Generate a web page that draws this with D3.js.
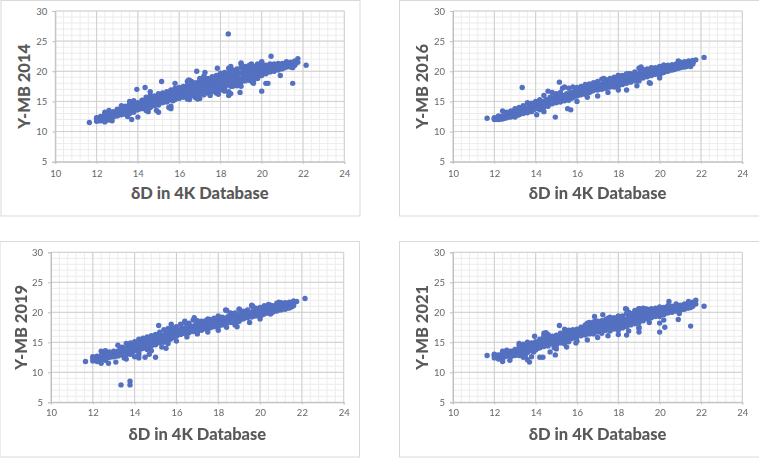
<!DOCTYPE html>
<html><head><meta charset="utf-8">
<script src="https://cdn.jsdelivr.net/npm/d3@7"></script>
<style>html,body{margin:0;padding:0;background:#fff}svg{display:block;filter:blur(.4px)}</style>
</head><body><svg id="c" width="759" height="458"></svg>
<script>
// Shared δD values for the envelope rows
const xEdge=[12.0,12.2,12.4,12.6,12.8,13.0,13.2,13.4,13.6,13.8,14.0,14.2,14.4,14.6,14.8,15.0,15.2,15.4,15.6,15.8,16.0,16.2,16.4,16.6,16.8,17.0,17.2,17.4,17.6,17.8,18.0,18.2,18.4,18.6,18.8,19.0,19.2,19.4,19.6,19.8,20.0,20.2,20.4,20.6,20.8,21.0,21.2,21.4,21.6];
const xCore=[12.1,12.3,12.5,12.7,12.9,13.1,13.3,13.5,13.7,13.9,14.1,14.3,14.5,14.7,14.9,15.1,15.3,15.5,15.7,15.9,16.1,16.3,16.5,16.7,16.9,17.1,17.3,17.5,17.7,17.9,18.1,18.3,18.5,18.7,18.9,19.1,19.3,19.5,19.7,19.9,20.1,20.3,20.5,20.7,20.9,21.1,21.3,21.5,21.6];

const hi2014=[12.3,12.5,13.2,13.5,13.3,13.7,14.3,14.2,15.0,15.1,14.8,15.2,15.7,16.0,15.9,16.3,16.4,16.6,16.9,17.2,17.3,17.5,18.3,18.3,18.1,18.5,19.0,18.8,19.1,19.3,19.5,19.8,20.5,20.2,20.4,21.2,20.8,21.0,20.9,21.2,21.5,21.0,21.2,21.2,21.3,21.3,21.6,21.5,21.7];
const upFill2014=[12.2,12.4,12.9,13.2,13.1,13.5,13.9,14.0,14.5,14.7,14.5,14.9,15.3,15.5,15.5,15.9,16.1,16.3,16.6,16.9,17.0,17.2,17.7,17.7,17.7,18.0,18.4,18.4,18.6,18.8,19.1,19.3,19.8,19.8,20.0,20.6,20.4,20.6,20.6,20.8,21.0,20.8,20.9,21.0,21.1,21.1,21.3,21.4,21.5];
const up2014=[12.2,12.4,12.8,13.0,13.0,13.4,13.6,13.9,14.3,14.5,14.4,14.8,15.1,15.3,15.3,15.7,15.9,16.1,16.4,16.6,16.8,17.0,17.3,17.3,17.5,17.7,18.0,18.1,18.3,18.5,18.8,19.0,19.4,19.5,19.7,20.2,20.1,20.3,20.4,20.5,20.7,20.6,20.7,20.8,21.0,21.1,21.2,21.3,21.5];
const mid2014=[12.1,12.2,12.5,12.8,12.9,13.2,13.4,13.6,14.0,14.2,14.2,14.5,14.8,15.0,15.0,15.5,15.6,15.8,16.1,16.3,16.5,16.7,16.9,17.0,17.2,17.4,17.7,17.8,18.0,18.2,18.4,18.6,18.9,19.1,19.3,19.7,19.8,20.0,20.1,20.2,20.4,20.4,20.5,20.6,20.8,21.0,21.1,21.2,21.4];
const dn2014=[11.9,12.0,12.3,12.5,12.8,13.0,13.1,13.4,13.7,13.9,14.0,14.3,14.5,14.7,14.8,15.2,15.3,15.5,15.7,16.0,16.2,16.4,16.5,16.7,16.9,17.0,17.3,17.5,17.6,17.8,18.0,18.2,18.3,18.7,18.8,19.2,19.4,19.6,19.7,19.8,20.1,20.2,20.3,20.5,20.6,20.9,21.0,21.0,21.3];
const lowFill2014=[11.8,11.9,12.0,12.2,12.6,12.8,12.9,13.1,13.4,13.6,13.8,14.0,14.1,14.3,14.5,14.8,15.0,15.2,15.1,15.6,15.8,16.0,16.0,16.3,16.3,16.6,16.7,17.0,17.1,17.1,17.4,17.7,17.5,18.0,18.2,18.7,18.9,19.0,19.0,19.4,19.7,19.9,20.1,20.3,20.4,20.6,20.8,20.9,21.1];
const lo2014=[11.7,11.8,11.6,11.9,12.4,12.6,12.8,12.9,13.0,13.2,13.6,13.8,13.5,14.0,14.3,14.4,14.8,14.9,14.2,15.3,15.5,15.7,15.4,15.9,15.6,16.2,16.1,16.4,16.6,16.4,16.9,17.2,16.6,17.5,17.6,18.2,18.4,18.5,18.3,19.0,19.3,19.6,19.9,20.0,20.2,20.4,20.7,20.7,21.0];

const hi2016=[12.3,12.6,13.4,13.2,13.4,13.8,14.0,14.3,14.8,14.7,15.0,15.3,16.0,16.7,16.5,16.3,16.5,17.4,17.2,17.4,17.3,17.5,17.8,17.9,18.1,18.2,18.7,18.6,18.8,19.0,19.3,19.3,19.6,19.6,19.9,20.5,20.3,20.4,20.5,20.6,20.8,21.0,21.0,21.1,21.2,21.5,21.6,21.7,21.8];
const up2016=[12.2,12.4,12.8,12.9,13.1,13.4,13.6,13.9,14.2,14.3,14.6,14.9,15.3,15.7,15.7,15.8,16.0,16.3,16.5,16.7,16.9,17.1,17.3,17.5,17.7,17.8,18.1,18.2,18.4,18.6,18.8,18.9,19.1,19.2,19.4,19.9,19.9,20.0,20.1,20.2,20.4,20.6,20.7,20.8,21.0,21.2,21.3,21.4,21.6];
const mid2016=[12.15,12.3,12.6,12.8,13.0,13.2,13.4,13.7,13.9,14.1,14.4,14.7,15.0,15.3,15.4,15.5,15.7,16.0,16.2,16.4,16.6,16.8,17.0,17.2,17.4,17.6,17.8,17.9,18.1,18.3,18.5,18.6,18.8,19.0,19.2,19.6,19.7,19.8,19.9,20.0,20.2,20.4,20.5,20.6,20.8,21.0,21.1,21.3,21.5];
const dn2016=[12.1,12.1,12.4,12.6,12.8,13.1,13.3,13.5,13.7,13.9,14.2,14.5,14.8,15.0,15.1,15.3,15.5,15.7,15.9,16.2,16.4,16.6,16.8,17.0,17.2,17.4,17.5,17.7,17.9,18.0,18.3,18.4,18.6,18.8,19.0,19.4,19.5,19.6,19.7,19.9,20.0,20.2,20.4,20.5,20.7,20.9,21.0,21.2,21.4];
const lowFill2016=[12.05,12.1,12.2,12.4,12.6,12.7,13.0,13.2,13.4,13.6,13.9,14.0,14.4,14.6,14.8,15.0,15.2,15.4,15.5,15.9,16.1,16.3,16.5,16.7,17.0,17.1,17.2,17.4,17.6,17.7,17.9,18.1,18.3,18.5,18.7,18.9,19.2,19.3,19.5,19.7,19.7,20.0,20.2,20.3,20.5,20.7,20.8,21.1,21.3];
const lo2016=[12.0,12.0,12.1,12.3,12.4,12.4,12.8,13.0,13.1,13.3,13.8,13.6,14.0,14.2,14.6,14.8,14.9,15.1,15.2,15.6,15.9,16.1,16.2,16.5,16.8,16.9,17.0,17.2,17.4,17.4,17.5,17.8,18.0,18.2,18.4,18.4,18.9,19.1,19.3,19.5,19.4,19.8,20.0,20.2,20.4,20.6,20.7,21.0,21.2];

const hi2019=[12.6,12.7,13.5,13.6,13.4,13.5,14.5,14.2,14.8,14.9,15.1,15.5,15.7,15.9,16.1,16.3,16.7,17.1,17.3,17.4,17.6,18.0,18.3,18.2,18.7,18.4,18.5,18.6,18.8,19.0,19.1,19.2,20.3,19.9,19.9,20.5,20.2,20.4,21.0,20.7,20.8,21.1,21.3,21.1,21.5,21.6,21.6,21.7,21.9];
const up2019=[12.4,12.5,13.0,13.1,13.1,13.2,13.8,13.9,14.3,14.4,14.7,15.0,15.2,15.4,15.6,15.9,16.2,16.5,16.7,16.9,17.1,17.4,17.6,17.7,17.9,17.9,18.0,18.2,18.4,18.6,18.7,18.8,19.4,19.4,19.5,19.9,19.9,20.0,20.3,20.3,20.4,20.6,20.8,20.8,21.0,21.2,21.3,21.4,21.6];
const mid2019=[12.3,12.35,12.8,12.9,12.95,13.05,13.5,13.6,14.0,14.1,14.4,14.7,15.0,15.2,15.3,15.6,16.0,16.2,16.4,16.6,16.8,17.1,17.3,17.4,17.6,17.6,17.8,17.9,18.1,18.3,18.4,18.6,19.1,19.1,19.2,19.6,19.7,19.8,20.0,20.1,20.2,20.3,20.5,20.6,20.8,21.0,21.1,21.2,21.5];
const dn2019=[12.2,12.2,12.6,12.7,12.8,12.9,13.2,13.4,13.7,13.8,14.2,14.5,14.7,14.9,15.1,15.4,15.7,15.9,16.2,16.4,16.6,16.8,17.0,17.2,17.3,17.4,17.6,17.7,17.9,18.1,18.2,18.4,18.8,18.9,19.0,19.3,19.5,19.6,19.7,19.9,20.0,20.1,20.3,20.4,20.6,20.8,20.9,21.1,21.4];
const lowFill2019=[12.05,12.0,12.4,12.5,12.6,12.7,12.9,13.1,13.3,13.4,13.9,13.9,14.3,14.3,14.7,15.0,15.3,15.4,15.5,16.0,16.3,16.5,16.7,16.9,17.0,17.1,17.3,17.4,17.6,17.8,17.9,18.1,18.5,18.6,18.4,18.9,19.2,19.3,19.4,19.6,19.6,19.9,20.1,20.2,20.4,20.6,20.7,20.9,21.2];
const lo2019=[11.9,11.8,12.2,12.4,12.5,12.6,12.7,12.9,12.9,13.0,13.6,13.3,14.0,13.8,14.4,14.6,14.9,15.0,14.8,15.7,16.0,16.3,16.5,16.6,16.8,16.9,17.0,17.2,17.4,17.6,17.6,17.9,18.2,18.3,17.9,18.5,18.9,19.1,19.2,19.4,19.3,19.7,19.9,20.0,20.2,20.4,20.5,20.7,21.1];

const hi2021=[13.0,12.9,13.5,13.7,13.5,13.8,14.8,14.7,15.0,14.9,15.1,15.5,16.5,16.3,16.0,16.2,16.5,17.2,17.0,17.1,17.2,17.5,17.9,18.3,18.4,18.5,18.6,18.8,19.2,19.1,19.0,19.4,20.5,19.8,20.3,20.6,20.7,20.5,20.6,20.7,20.9,20.8,21.1,21.0,21.4,21.2,21.4,21.6,21.7];
const upFill2021=[12.9,12.8,13.3,13.4,13.3,13.6,14.4,14.4,14.7,14.7,14.9,15.2,15.9,15.9,15.8,16.0,16.2,16.7,16.7,16.8,17.0,17.2,17.5,17.8,18.0,18.1,18.3,18.4,18.6,18.7,18.8,19.0,19.8,19.5,19.9,20.2,20.3,20.2,20.3,20.4,20.6,20.6,20.9,20.8,21.1,21.1,21.2,21.4,21.6];
const up2021=[12.8,12.8,13.1,13.2,13.2,13.4,14.1,14.2,14.5,14.5,14.7,15.0,15.5,15.6,15.6,15.8,16.0,16.4,16.4,16.6,16.8,17.0,17.3,17.5,17.7,17.8,18.0,18.1,18.3,18.3,18.5,18.7,19.2,19.2,19.5,19.9,20.0,20.0,20.1,20.2,20.4,20.5,20.7,20.7,20.9,21.0,21.1,21.3,21.5];
const mid2021=[12.7,12.7,13.0,13.1,13.1,13.3,13.7,13.9,14.2,14.3,14.5,14.8,15.2,15.4,15.4,15.6,15.8,16.1,16.2,16.4,16.6,16.8,17.0,17.2,17.4,17.5,17.7,17.8,18.0,18.1,18.2,18.4,18.9,19.0,19.2,19.6,19.7,19.8,19.9,20.0,20.1,20.3,20.5,20.6,20.8,20.9,21.0,21.1,21.4];
const dn2021=[12.6,12.5,12.9,13.0,12.9,13.1,13.4,13.6,13.9,14.1,14.3,14.6,14.9,15.1,15.2,15.4,15.6,15.9,16.0,16.2,16.4,16.6,16.8,17.0,17.1,17.3,17.4,17.6,17.7,17.8,17.9,18.2,18.5,18.7,18.9,19.3,19.4,19.5,19.6,19.8,19.9,20.1,20.3,20.4,20.6,20.7,20.8,21.0,21.2];
const lowFill2021=[12.5,12.4,12.6,12.9,12.8,13.0,13.1,13.4,13.6,13.4,14.0,14.3,14.6,14.8,14.9,15.0,15.3,15.6,15.6,16.0,16.2,16.4,16.5,16.7,16.8,17.0,17.0,17.3,17.3,17.5,17.5,17.8,18.1,18.3,18.5,18.8,19.0,19.2,19.4,19.6,19.6,19.9,20.1,20.2,20.4,20.5,20.7,20.8,21.1];
const lo2021=[12.4,12.2,12.3,12.7,12.6,12.8,12.8,13.1,13.3,12.6,13.7,14.1,14.3,14.4,14.7,14.5,14.9,15.3,15.1,15.7,15.9,16.1,16.2,16.4,16.4,16.7,16.5,17.0,16.9,17.2,17.0,17.4,17.6,17.9,18.1,18.3,18.6,18.9,19.1,19.3,19.3,19.6,19.9,20.0,20.2,20.4,20.5,20.7,21.0];

// Points standing apart from the band: [δD, Y-MB]
const out2014=[[11.65,11.5],[18.38,26.2],[20.45,22.5],[22.15,21],[21.75,22.1],[21.75,21.5],[21.5,18],[20.9,19.3],[20,16.7],[20.2,18],[20.3,18],[18.95,16.5],[18.95,17.7],[18.4,16],[19.8,18.8],[19.55,18.2],[15.15,18.3],[13.95,17],[14.35,17.3],[14.6,16.6],[15.8,18],[16.85,20],[17.25,19.8],[17.85,20.5],[13.7,12],[14,12.4],[12.75,11.8],[15,13.2],[15.6,13.8],[14.5,13.3],[21.5,20.6],[16.45,18.5],
 [16.5,15.3],[17,15.5],[17.5,16],[17.9,16.2],[18.2,16.7],[18.5,16.3],[19,17.5],[19.6,18],[14.9,13.5],[15.5,14],[13.5,12.5],[16.9,15.4],[16.5,18.5],[17,18.8],[17.2,19.2],[18,19.7],[18.5,20.8],[19,21.4],[19.5,21.2],[20,21.6]];
const out2016=[[11.65,12.2],[13.35,17.3],[15.15,18.2],[14.95,12.4],[15.55,13.8],[15.7,13.6],[14.05,12.8],[22.15,22.3],[21.75,21.9],[21.5,20.8],[15.3,17.2],[14.4,13.3],[19.55,18],
 [16,15],[16.5,15.7],[17,15.9],[17.5,16.5],[18,16.9],[18.4,16.9],[18.9,17.6],[19.5,18.1],[20,18.9],[17,18.3],[17.3,18.8],[18,19.3],[18.5,19.6],[19.1,20.7],[19.6,20.6],[20.2,21],[20.9,21.7]];
const out2019=[[11.65,11.8],[13.35,7.9],[13.78,8.5],[13.78,7.9],[15.15,17.8],[15.75,18],[16.85,19.1],[22.15,22.3],[21.75,21.8],[15,12.5],[14.7,13],[13.1,11.7],[12.75,11.5],[12.4,11.5],[13.6,12.2],[14.2,12.4],[14.5,12.5],[15.5,14],[18.4,20.3],[19.65,21],
 [16,15.2],[16.5,15.9],[17,16.4],[17.5,16.7],[18,17],[18.4,17.5],[18.9,17.6],[19.5,18.3],[20,18.9],[20.5,19.7],[16.4,18.5],[17,18.6],[17.5,18.9],[18,19.4],[18.35,20.4],[19,20.5],[19.6,21.2],[20.5,21.2],[20.9,21.7],[12.6,12],[13.5,12.4],[14,12.6],[14.2,12.9],[14.8,13.6],[15.3,14.2]];
const out2021=[[11.65,12.8],[22.15,21],[21.75,22],[21.75,21.4],[21.5,17.7],[20.9,18.8],[20.95,19.8],[20,16.7],[20,18.2],[20.25,17.5],[20.2,18.7],[19,16.7],[19,17.3],[18.4,16.2],[20.45,21.8],[21.4,21.8],[15.15,17.8],[13.95,16],[14.4,16],[14.5,16.6],[16.85,19.3],[17.25,19.6],[13.7,11.7],[12.4,11.8],[12.75,12],[14.2,12.5],[14.35,12.5],[14.95,12.9],[14.7,13.4],[15.95,14.9],[18.35,20.6],
 [16,15.2],[16.5,15.4],[17,15.8],[17.5,16.1],[18,16.3],[18.5,16.9],[19,17.5],[19.5,18.3],[15,13.9],[15.5,14.2],[15.4,14.7],[13.4,12.5],[13.6,12.1],[13.5,12.7],[14.9,14.1],[16.5,18.2],[16.9,18.5],[17.5,19],[18,19.4],[18.5,20],[19,20.6],[19.3,20.6]];

const yearNames=["Y-MB 2014","Y-MB 2016","Y-MB 2019","Y-MB 2021"];
const xTicks=[10,12,14,16,18,20,22,24];
const yTicks=[5,10,15,20,25,30];
const xTitle="δD in 4K Database";

const zip=(xs,ys)=>ys.map((v,i)=>[xs[i],v]);
const rows=[
  [[xEdge,hi2014],[xEdge,upFill2014],[xCore,up2014],[xEdge,mid2014],[xCore,dn2014],[xCore,lowFill2014],[xEdge,lo2014]],
  [[xEdge,hi2016],[xCore,up2016],[xEdge,mid2016],[xCore,dn2016],[xCore,lowFill2016],[xEdge,lo2016]],
  [[xEdge,hi2019],[xCore,up2019],[xEdge,mid2019],[xCore,dn2019],[xCore,lowFill2019],[xEdge,lo2019]],
  [[xEdge,hi2021],[xEdge,upFill2021],[xCore,up2021],[xEdge,mid2021],[xCore,dn2021],[xCore,lowFill2021],[xEdge,lo2021]]
];
const apart=[out2014,out2016,out2019,out2021];
const layout=[
 {f:[1,0.5,360,216], p:[55.3,344.3,11,161.7], t:31, xl:176, xt:193},
 {f:[399.5,0.5,762,216], p:[453,742.3,11,161.7], t:31, xl:176, xt:193},
 {f:[0,241.5,359.5,457], p:[51,343.7,252.3,402.3], t:29.5, xl:415, xt:434},
 {f:[399.5,241.5,762,457], p:[453,742.3,252.3,402.3], t:31, xl:415, xt:434}
];
const svg=d3.select("#c");
const FONT="Lato, 'Liberation Sans', sans-serif";
const blue="#5470c0", grey="#595959";
layout.forEach((L,k)=>{
  const g=svg.append("g");
  g.append("rect").attr("x",L.f[0]).attr("y",L.f[1]).attr("width",L.f[2]-L.f[0]).attr("height",L.f[3]-L.f[1])
    .attr("fill","#fff").attr("stroke","#d9d9d9").attr("stroke-width",1);
  const x=d3.scaleLinear().domain([10,24]).range([L.p[0],L.p[1]]);
  const y=d3.scaleLinear().domain([5,30]).range([L.p[3],L.p[2]]);
  g.append("g").selectAll("line").data(d3.range(10,24.01,0.4)).join("line")
    .attr("x1",d=>x(d)).attr("x2",d=>x(d)).attr("y1",L.p[2]).attr("y2",L.p[3]).attr("stroke","#ececec");
  g.append("g").selectAll("line").data(d3.range(5,30.01,1)).join("line")
    .attr("y1",d=>y(d)).attr("y2",d=>y(d)).attr("x1",L.p[0]).attr("x2",L.p[1]).attr("stroke","#ececec");
  g.append("g").selectAll("line").data(xTicks).join("line")
    .attr("x1",d=>x(d)).attr("x2",d=>x(d)).attr("y1",L.p[2]).attr("y2",L.p[3]).attr("stroke","#cfcfcf");
  g.append("g").selectAll("line").data(yTicks).join("line")
    .attr("y1",d=>y(d)).attr("y2",d=>y(d)).attr("x1",L.p[0]).attr("x2",L.p[1]).attr("stroke","#cfcfcf");
  const ax=g.append("g").attr("transform",`translate(0,${L.p[3]})`)
    .call(d3.axisBottom(x).tickValues(xTicks).tickSize(2).tickPadding(L.xl-L.p[3]-8));
  const ay=g.append("g").attr("transform",`translate(${L.p[0]},0)`)
    .call(d3.axisLeft(y).tickValues(yTicks).tickSize(3).tickPadding(5));
  [ax,ay].forEach(a=>{
    a.selectAll("path,line").attr("stroke","#bfbfbf");
    a.selectAll("text").attr("font-family",FONT).attr("font-size",9.5).attr("fill","#666");
  });
  const pts=[...rows[k].flatMap(([xs,ys])=>zip(xs,ys)),...apart[k]];
  g.append("g").selectAll("circle").data(pts).join("circle")
    .attr("cx",p=>x(p[0])).attr("cy",p=>y(p[1])).attr("r",2.7).attr("fill",blue);
  g.append("text").attr("x",(L.p[0]+L.p[1])/2).attr("y",L.xt).attr("dy","0.35em").attr("text-anchor","middle")
    .attr("font-family",FONT).attr("font-weight",900).attr("font-size",16.5).attr("fill",grey).text(xTitle);
  g.append("text").attr("transform",`translate(${L.p[0]-L.t},${(L.p[2]+L.p[3])/2}) rotate(-90)`).attr("dy","0.35em")
    .attr("text-anchor","middle").attr("font-family",FONT).attr("font-weight",900).attr("font-size",16.5).attr("fill",grey).text(yearNames[k]);
});
</script></body></html>
